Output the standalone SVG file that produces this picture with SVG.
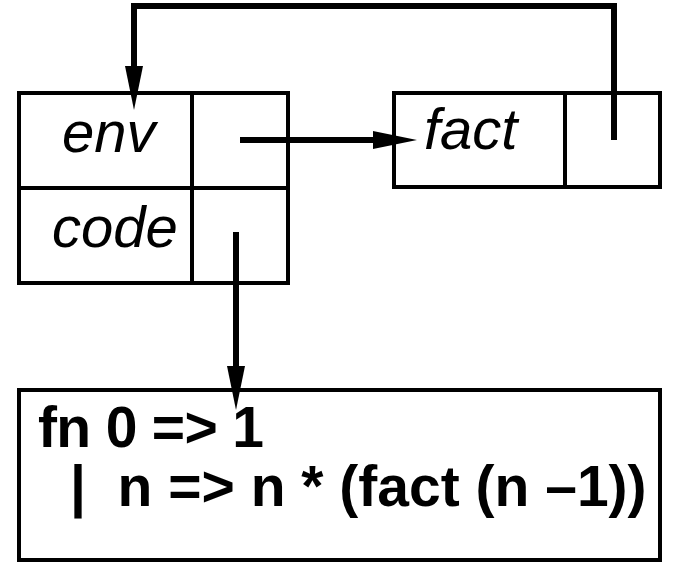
<svg xmlns="http://www.w3.org/2000/svg" width="676" height="562" viewBox="0 0 676 562">
  <style>
    .box { fill: #fff; stroke: #000; stroke-width: 4; }
    .div { fill: none; stroke: #000; stroke-width: 4; }
    .wire { fill: none; stroke: #000; stroke-width: 6; stroke-linejoin: miter; }
    .lbl { font-family: "Liberation Sans", Arial, sans-serif; font-style: italic; font-size: 58px; fill: #000; }
    .code { font-family: "Liberation Sans", Arial, sans-serif; font-weight: bold; font-size: 57px; fill: #000; }
  </style>
  <defs>
    <marker id="head" markerUnits="userSpaceOnUse" markerWidth="44" markerHeight="20" viewBox="0 -10 44 20" refX="0" refY="0" orient="auto">
      <path d="M0,-9 L44,0 L0,9 Z" fill="#000"/>
    </marker>
  </defs>

  <!-- closure record: env / code -->
  <g id="closure">
    <rect class="box" x="19" y="93" width="269" height="190"/>
    <line class="div" x1="192" y1="93" x2="192" y2="283"/>
    <line class="div" x1="19" y1="188" x2="288" y2="188"/>
    <text class="lbl" x="62" y="152">env</text>
    <text class="lbl" x="52" y="247">code</text>
  </g>

  <!-- environment binding: fact -->
  <g id="env-fact">
    <rect class="box" x="394" y="93" width="266" height="94"/>
    <line class="div" x1="565" y1="93" x2="565" y2="187"/>
    <text class="lbl" x="424" y="149">fact</text>
  </g>

  <!-- function body -->
  <g id="code-body">
    <rect class="box" x="19" y="390" width="641" height="170"/>
    <text class="code" x="38" y="447" textLength="226" lengthAdjust="spacing">fn 0 =&gt; 1</text>
    <text class="code" x="70" y="506" xml:space="preserve">|  n =&gt; n * (fact (n –1))</text>
  </g>

  <!-- pointers -->
  <g id="connectors">
    <path class="wire" d="M240,140 H373" marker-end="url(#head)"/>
    <path class="wire" d="M614,140 V6 H134 V66" marker-end="url(#head)"/>
    <path class="wire" d="M236,232 V366" marker-end="url(#head)"/>
  </g>
</svg>
